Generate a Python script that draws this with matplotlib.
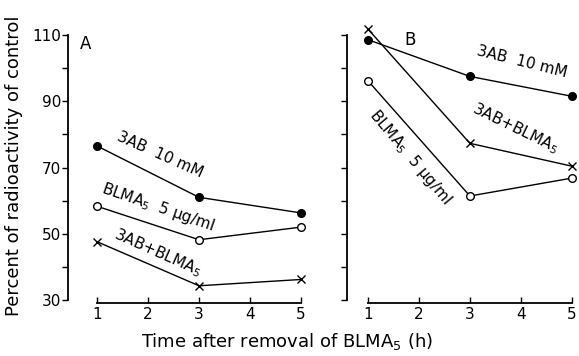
import matplotlib.pyplot as plt

# hours after removal of BLMA5
hours = [1, 3, 5]

# panel A
a_3ab = [76.5, 61.0, 56.3]
a_blma = [58.3, 48.2, 52.0]
a_combo = [47.6, 34.3, 36.2]

# panel B
b_3ab = [108.6, 97.5, 91.5]
b_blma = [96.2, 61.4, 66.8]
b_combo = [111.8, 77.3, 70.4]

yticks = [30, 50, 70, 90, 110]
W, H = 579, 356


def px(x0, y0, x1, y1):
    return [x0 / W, 1 - y1 / H, (x1 - x0) / W, (y1 - y0) / H]


def style(ax, xlim, labels):
    ax.set_xlim(*xlim)
    ax.set_ylim(29.1, 110)
    for s in ("top", "right"):
        ax.spines[s].set_visible(False)
    ax.spines["left"].set_bounds(30, 110)
    ax.spines["bottom"].set_bounds(1, 5)
    ax.spines["left"].set_linewidth(1.3)
    ax.spines["bottom"].set_linewidth(1.3)
    ax.set_xticks([1, 2, 3, 4, 5])
    ax.set_yticks(yticks)
    ax.set_yticks(range(30, 111, 10), minor=True)
    ax.tick_params(axis="x", direction="in", length=4, width=1, labelsize=11, pad=3)
    ax.tick_params(axis="y", which="both", direction="out", length=4, width=1,
                   labelsize=11, pad=1)
    if not labels:
        ax.set_yticklabels([])


def draw(ax, s3ab, sblma, scombo):
    kw = dict(color="black", lw=1.0, clip_on=False)
    ax.plot(hours, s3ab, marker="o", ms=5.5, mfc="black", mec="black", **kw)
    ax.plot(hours, sblma, marker="o", ms=5.5, mfc="white", mec="black", mew=1.0, **kw)
    ax.plot(hours, scombo, marker="x", ms=6, mew=1.0, **kw)


fig = plt.figure(figsize=(W / 100, H / 100), dpi=100)
axA = fig.add_axes(px(68, 35, 306, 303))
axB = fig.add_axes(px(347, 35, 577, 303))
style(axA, (0.43, 5.1), True)
style(axB, (0.59, 5.1), False)
draw(axA, a_3ab, a_blma, a_combo)
draw(axB, b_3ab, b_blma, b_combo)


def label(x, y, s, rot, size=11):
    fig.text(x / W, 1 - y / H, s, rotation=rot, ha="center", va="center",
             fontsize=size, rotation_mode="anchor")


label(86, 44, "A", 0, 12)
label(410, 40, "B", 0, 12)
label(160, 155, "3AB  10 mM", -24)
label(158, 207, "BLMA$_5$  5 µg/ml", -19)
label(158, 253, "3AB+BLMA$_5$", -24)
label(522, 62, "3AB  10 mM", -14)
label(515, 128, "3AB+BLMA$_5$", -26)
label(410, 157, "BLMA$_5$  5 µg/ml", -50)

fig.text(287 / W, 1 - 341 / H, "Time after removal of BLMA$_5$ (h)",
         ha="center", va="center", fontsize=13)
fig.text(14 / W, 1 - 166 / H, "Percent of radioactivity of control",
         ha="center", va="center", rotation=90, fontsize=13)

fig.savefig("out.png", dpi=100)
